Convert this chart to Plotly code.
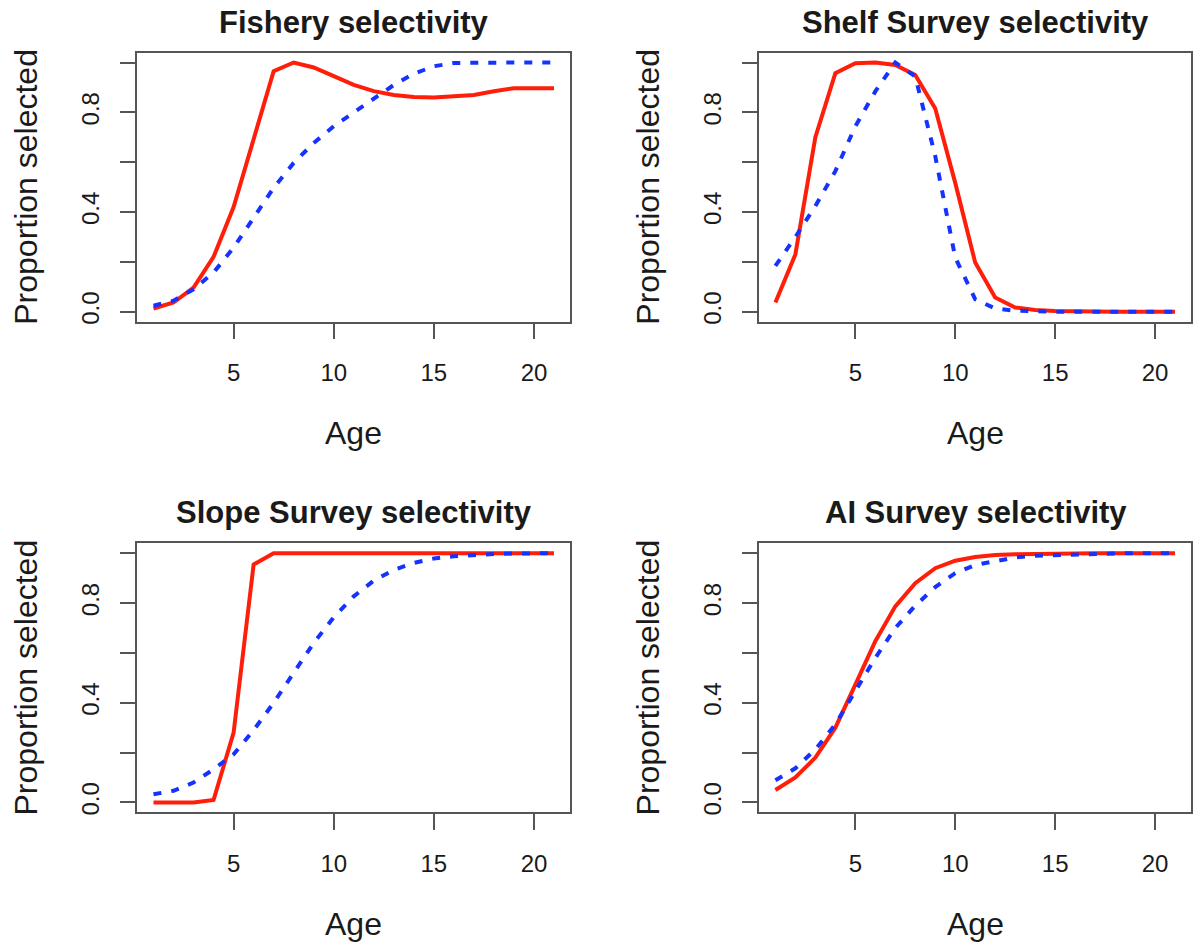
import plotly.graph_objects as go

# ---------------- data ----------------
ages = list(range(1, 22))

fishery_red = [0.013, 0.037, 0.097, 0.22, 0.42, 0.69, 0.965, 1.0, 0.98, 0.945, 0.91,
               0.885, 0.87, 0.862, 0.86, 0.865, 0.87, 0.885, 0.897, 0.897, 0.897]
fishery_blue = [0.024, 0.044, 0.09, 0.157, 0.257, 0.377, 0.497, 0.597, 0.677, 0.744, 0.80,
                0.857, 0.91, 0.955, 0.985, 0.998, 1.0, 1.0, 1.0, 1.0, 1.0]

shelf_red = [0.037, 0.23, 0.70, 0.957, 0.997, 1.0, 0.99, 0.95, 0.815, 0.517, 0.197,
             0.057, 0.017, 0.007, 0.003, 0.001, 0.0, 0.0, 0.0, 0.0, 0.0]
shelf_blue = [0.184, 0.30, 0.424, 0.564, 0.744, 0.884, 1.0, 0.944, 0.624, 0.217, 0.05,
              0.013, 0.004, 0.001, 0.0, 0.0, 0.0, 0.0, 0.0, 0.0, 0.0]

slope_red = [0.0, 0.0, 0.0, 0.01, 0.28, 0.955, 1.0, 1.0, 1.0, 1.0, 1.0,
             1.0, 1.0, 1.0, 1.0, 1.0, 1.0, 1.0, 1.0, 1.0, 1.0]
slope_blue = [0.033, 0.047, 0.08, 0.133, 0.193, 0.29, 0.40, 0.52, 0.64, 0.743, 0.827,
              0.89, 0.933, 0.961, 0.979, 0.988, 0.993, 0.997, 0.999, 1.0, 1.0]

ai_red = [0.05, 0.10, 0.18, 0.30, 0.473, 0.647, 0.787, 0.88, 0.94, 0.97, 0.985,
          0.993, 0.996, 0.998, 0.999, 1.0, 1.0, 1.0, 1.0, 1.0, 1.0]
ai_blue = [0.089, 0.137, 0.213, 0.313, 0.447, 0.58, 0.70, 0.79, 0.864, 0.92, 0.953,
           0.97, 0.983, 0.99, 0.993, 0.996, 0.998, 0.999, 1.0, 1.0, 1.0]

titles = ["Fishery selectivity", "Shelf Survey selectivity",
          "Slope Survey selectivity", "AI Survey selectivity"]
x_tick_vals = [5, 10, 15, 20]
y_tick_vals = [0.0, 0.2, 0.4, 0.6, 0.8, 1.0]
y_tick_text = ["0.0", "", "0.4", "", "0.8", ""]
x_label = "Age"
y_label = "Proportion selected"

red_series = [fishery_red, shelf_red, slope_red, ai_red]
blue_series = [fishery_blue, shelf_blue, slope_blue, ai_blue]

# ---------------- layout (pixels) ----------------
W, H = 1193, 947
FONT = "Liberation Sans, Arial, Helvetica, sans-serif"
RED = "#FF1E0A"
BLUE = "#1632FF"
AXC = "#555555"
TXT = "#1a1a1a"

# box extents: (left, right, top, bottom) in px
boxes = [
    (137.7, 571.0, 52.7, 322.7),
    (760.7, 1194.0, 52.7, 322.7),
    (137.7, 571.0, 545.0, 815.0),
    (760.7, 1194.0, 545.0, 815.0),
]

fig = go.Figure()
annotations = []

for i, (t, red, blue, box) in enumerate(zip(titles, red_series, blue_series, boxes), start=1):
    xa = "x" if i == 1 else f"x{i}"
    ya = "y" if i == 1 else f"y{i}"
    fig.add_trace(go.Scatter(x=ages, y=red, xaxis=xa, yaxis=ya, mode="lines",
                             line=dict(color=RED, width=4), showlegend=False,
                             hoverinfo="skip"))
    fig.add_trace(go.Scatter(x=ages, y=blue, xaxis=xa, yaxis=ya, mode="lines",
                             line=dict(color=BLUE, width=4, dash="8px,10px"),
                             showlegend=False, hoverinfo="skip"))
    l, r, tp, bt = box
    x0, x1 = l / W, min(1.0, r / W)
    y0, y1 = 1 - bt / H, 1 - tp / H
    common = dict(showline=True, mirror=True, linecolor=AXC, linewidth=1.5,
                  showgrid=False, zeroline=False, ticks="outside", ticklen=16,
                  tickwidth=1.5, tickcolor=AXC,
                  tickfont=dict(family=FONT, size=24, color=TXT))
    fig.update_layout(**{
        ("xaxis" if i == 1 else f"xaxis{i}"): dict(
            domain=[x0, x1], range=[0.2, 21.8], anchor=ya,
            tickvals=x_tick_vals, ticklabelstandoff=13, **common),
        ("yaxis" if i == 1 else f"yaxis{i}"): dict(
            domain=[y0, y1], range=[-0.04, 1.04], anchor=xa,
            tickvals=y_tick_vals, ticktext=y_tick_text, tickangle=-90,
            ticklabelstandoff=11, **common),
    })
    cx = ((l + r) / 2) / W
    # panel title
    annotations.append(dict(text=t, x=cx, y=1 - (tp - 30.5) / H, xref="paper", yref="paper",
                            xanchor="center", yanchor="middle", showarrow=False,
                            font=dict(family=FONT, size=31, color=TXT, weight="bold")))
    # x label
    annotations.append(dict(text=x_label, x=cx, y=1 - (bt + 112) / H,
                            xref="paper", yref="paper", xanchor="center", yanchor="middle",
                            showarrow=False, font=dict(family=FONT, size=32, color=TXT)))
    # y label
    annotations.append(dict(text=y_label, x=(l - 112) / W, y=1 - ((tp + bt) / 2) / H,
                            xref="paper", yref="paper", xanchor="center", yanchor="middle",
                            textangle=-90, showarrow=False,
                            font=dict(family=FONT, size=32, color=TXT)))

fig.update_layout(width=W, height=H, margin=dict(l=0, r=0, t=0, b=0),
                  paper_bgcolor="white", plot_bgcolor="white",
                  annotations=annotations, showlegend=False)

fig.write_html("out.html")
